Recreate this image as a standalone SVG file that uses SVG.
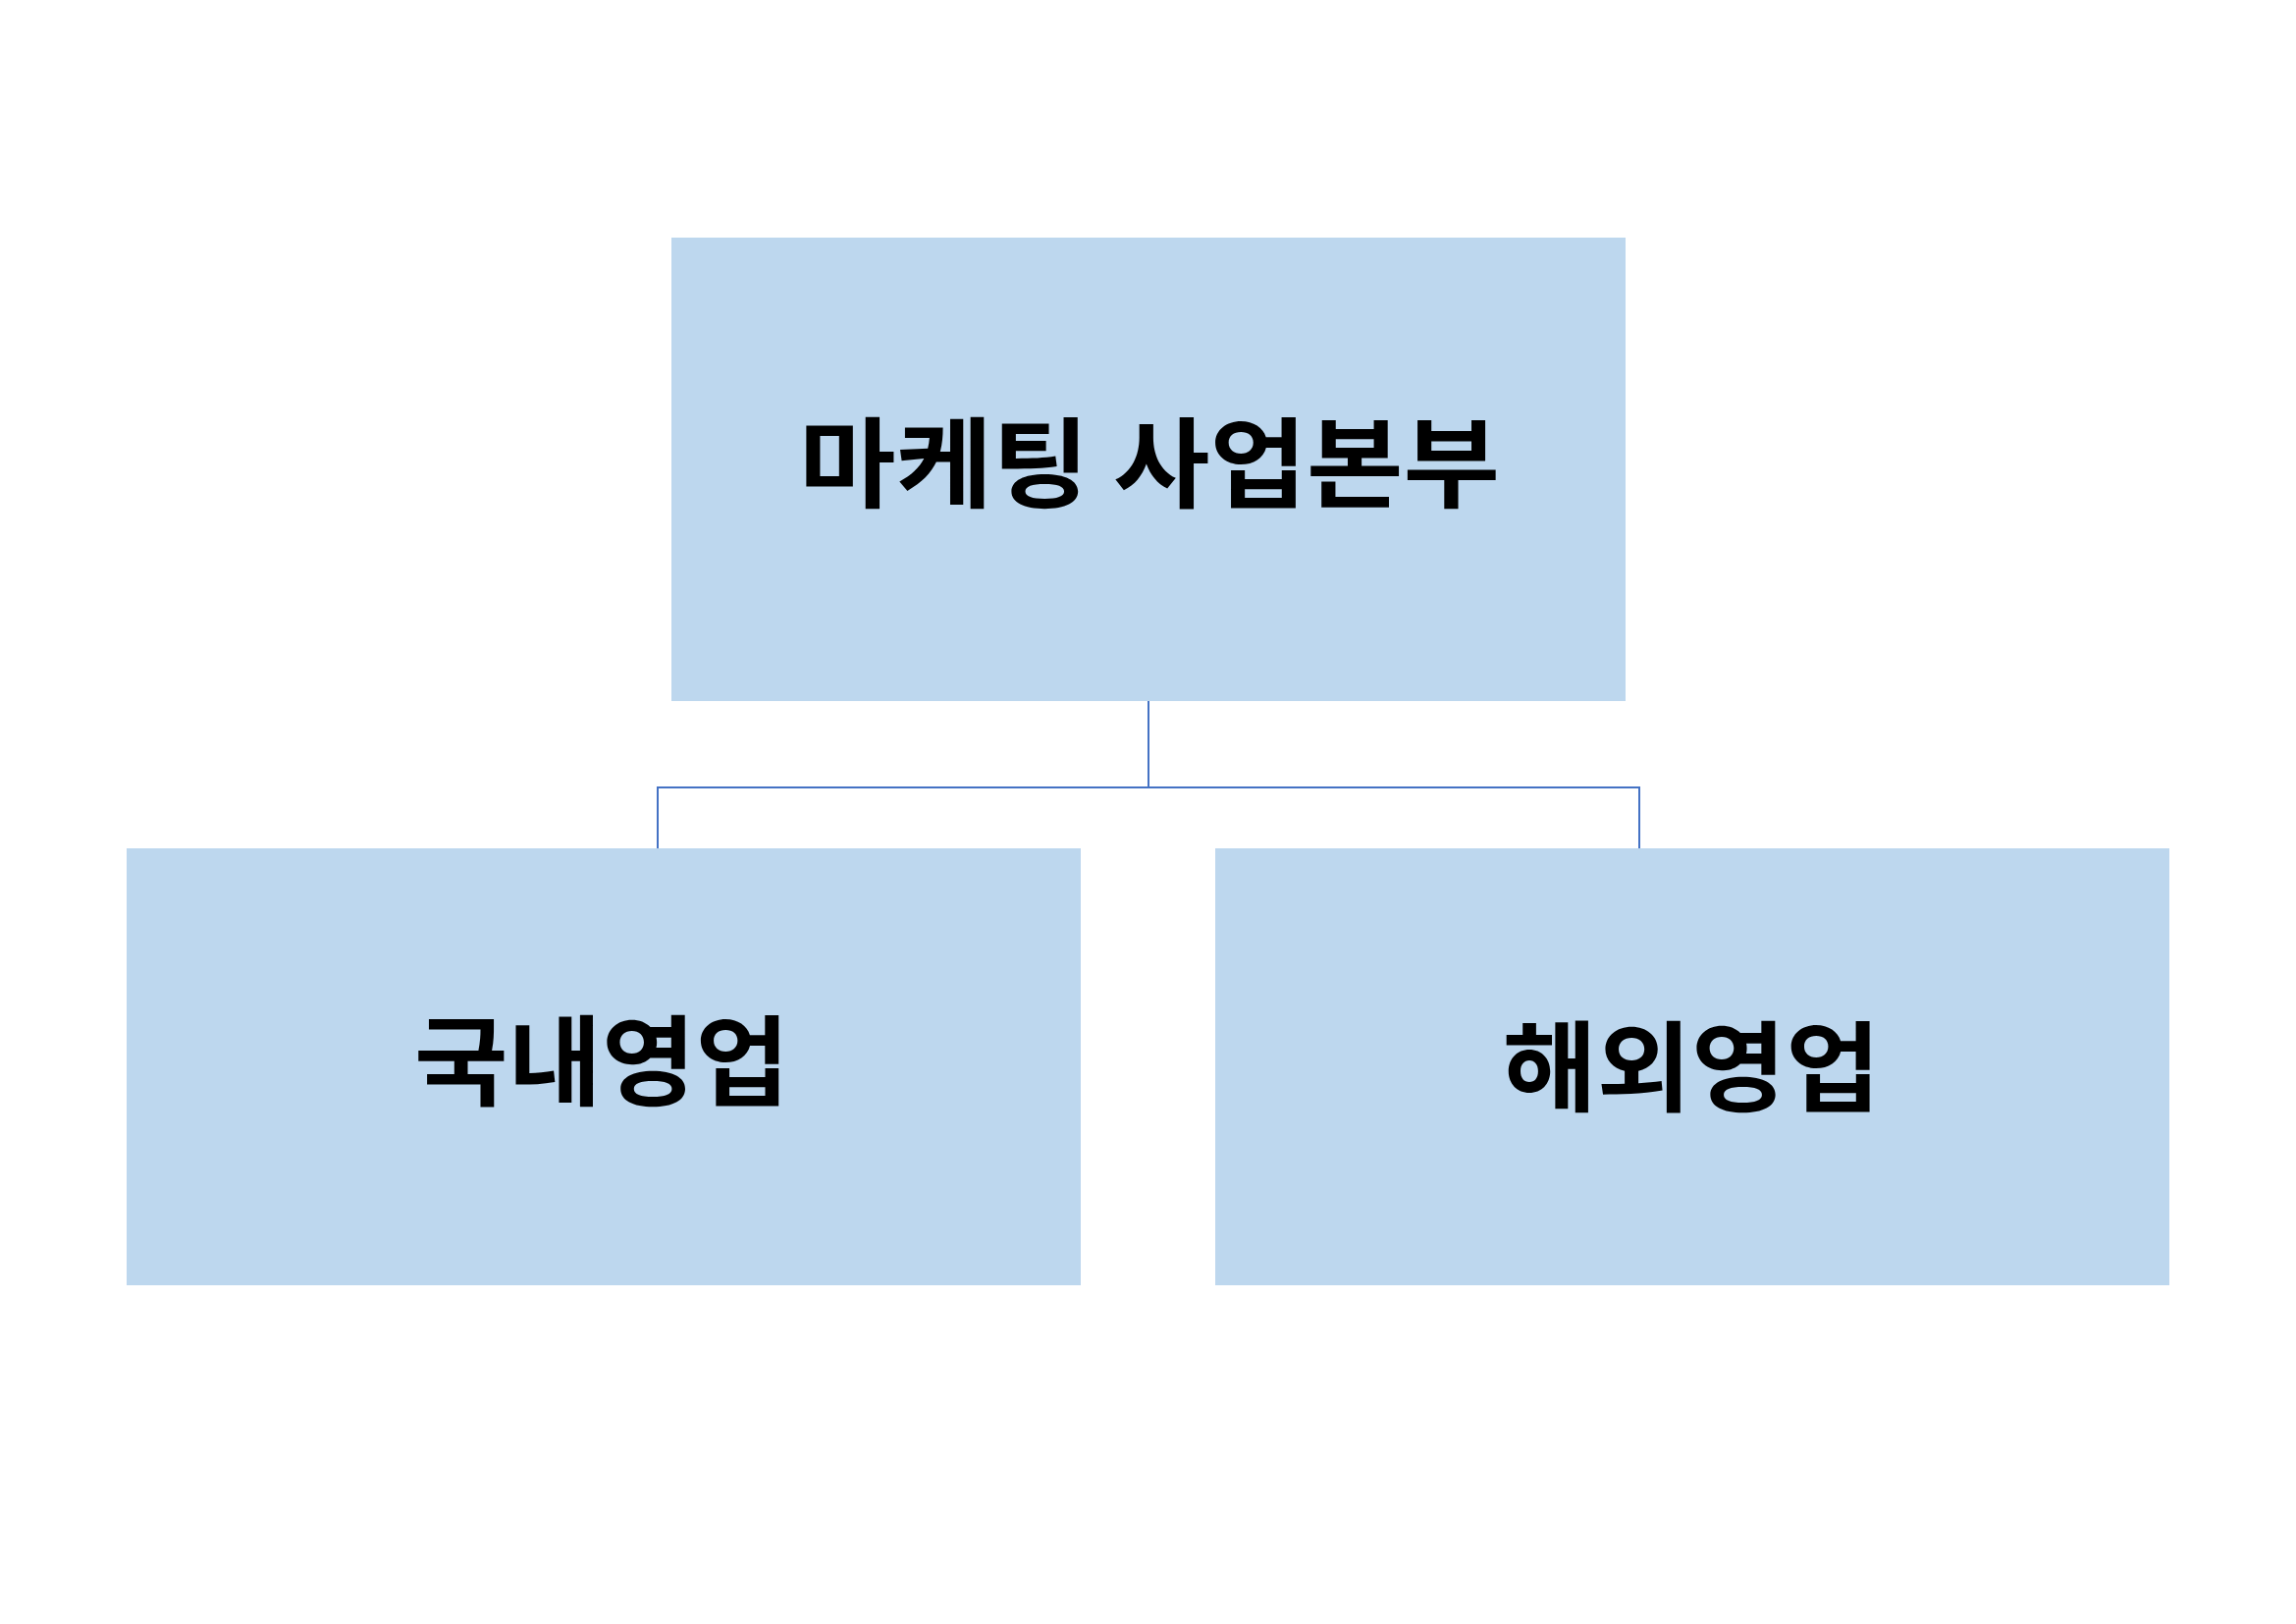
<svg xmlns="http://www.w3.org/2000/svg" width="2339" height="1654" viewBox="0 0 2339 1654">
<style>
.box{fill:#BDD7EE;}
.lbl{font-family:"Noto Sans CJK KR","Noto Sans",sans-serif;font-weight:bold;font-size:100px;fill:#000;text-anchor:middle;}
.conn{fill:none;stroke:#4472C4;stroke-width:2;}
</style>
<rect width="2339" height="1654" fill="#fff"/>
<g id="connectors">
<path class="conn" d="M1170,714 V802 M670,864 V802 H1670 V864"/>
</g>
<g id="node-top">
<rect class="box" x="684" y="242" width="972" height="472"/>
<text class="lbl" x="1171" y="509" textLength="714" lengthAdjust="spacingAndGlyphs">마케팅 사업본부</text>
</g>
<g id="node-left">
<rect class="box" x="129" y="864" width="972" height="445"/>
<text class="lbl" x="613" y="1118" textLength="382" lengthAdjust="spacingAndGlyphs">국내영업</text>
</g>
<g id="node-right">
<rect class="box" x="1238" y="864" width="972" height="445"/>
<text class="lbl" x="1723" y="1124" textLength="385" lengthAdjust="spacingAndGlyphs">해외영업</text>
</g>
</svg>
